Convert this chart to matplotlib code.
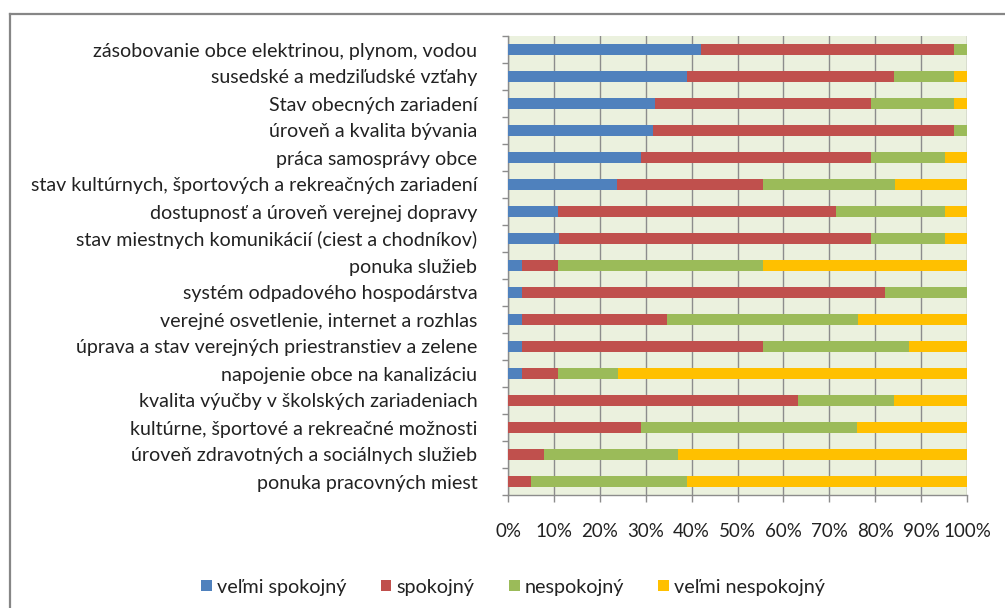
import matplotlib
matplotlib.use("Agg")
import matplotlib.pyplot as plt
from matplotlib.lines import Line2D
from matplotlib.patches import Patch
import numpy as np

plt.rcParams['font.family'] = ['Lato', 'DejaVu Sans']

categories = [
    "zásobovanie obce elektrinou, plynom, vodou",
    "susedské a medziľudské vzťahy",
    "Stav obecných zariadení",
    "úroveň a kvalita bývania",
    "práca samosprávy obce",
    "stav kultúrnych, športových a rekreačných zariadení",
    "dostupnosť a úroveň verejnej dopravy",
    "stav miestnych komunikácií (ciest a chodníkov)",
    "ponuka služieb",
    "systém odpadového hospodárstva",
    "verejné osvetlenie, internet a rozhlas",
    "úprava a stav verejných priestranstiev a zelene",
    "napojenie obce na kanalizáciu",
    "kvalita výučby v školských zariadeniach",
    "kultúrne, športové a rekreačné možnosti",
    "úroveň zdravotných a sociálnych služieb",
    "ponuka pracovných miest",
]
series_names = ["veľmi spokojný", "spokojný", "nespokojný", "veľmi nespokojný"]
velmi_spokojny = [42.1, 39.0, 32.1, 31.6, 29.0, 23.8, 10.8, 11.1, 3.0, 3.0, 3.0, 3.0, 3.0, 0, 0, 0, 0]
spokojny = [55.0, 45.2, 46.9, 65.5, 50.0, 31.8, 60.6, 67.9, 7.8, 79.2, 31.7, 52.6, 8.0, 63.1, 29.0, 7.9, 5.0]
nespokojny = [2.9, 12.9, 18.1, 2.9, 16.1, 28.8, 23.7, 16.1, 44.8, 17.8, 41.6, 31.7, 13.0, 21.1, 47.1, 29.1, 34.0]
velmi_nespokojny = [0, 2.9, 2.9, 0, 4.9, 15.6, 4.9, 4.9, 44.4, 0, 23.7, 12.7, 76.0, 15.8, 23.9, 63.0, 61.0]
colors = ["#4F81BD", "#C0504D", "#9BBB59", "#FFC000"]
xtick_labels = ["0%", "10%", "20%", "30%", "40%", "50%", "60%", "70%", "80%", "90%", "100%"]

W, H = 1005, 608
fig = plt.figure(figsize=(W / 100, H / 100), dpi=100)
ax = fig.add_axes([508 / W, 1 - 495 / H, (967 - 508) / W, (495 - 36) / H])
ax.set_facecolor("#EBF1DE")

y = np.arange(len(categories))
data = [velmi_spokojny, spokojny, nespokojny, velmi_nespokojny]
left = np.zeros(len(categories))
for vals, c in zip(data, colors):
    vals = np.array(vals, dtype=float)
    ax.barh(y, vals, left=left, height=0.38, color=c, zorder=3)
    left += vals

grid_c = "#8C8C8C"
ax.set_xlim(0, 100)
ax.set_ylim(len(categories) - 0.5, -0.5)
ax.set_xticks(np.arange(0, 101, 10))
ax.set_xticklabels(xtick_labels, fontsize=13.5, color="#222222")
ax.xaxis.grid(True, color=grid_c, linewidth=1.0, zorder=1)
ax.tick_params(axis='x', length=5, color=grid_c, width=1.0, pad=15)

ax.set_yticks(y)
ax.set_yticklabels(categories, fontsize=14.1, color="#222222")
ax.set_yticks(np.arange(-0.5, len(categories), 1), minor=True)
ax.tick_params(axis='y', which='major', length=0, pad=22)
ax.tick_params(axis='y', which='minor', length=4.3, color=grid_c, width=1.0)

for s in ["top", "right"]:
    ax.spines[s].set_visible(False)
for s in ["left", "bottom"]:
    ax.spines[s].set_color(grid_c)
    ax.spines[s].set_linewidth(1.0)

# outer chart frame (top and left edges visible)
fx, fy = 9.5 / W, 1 - 14 / H
fig.add_artist(Line2D([fx, 1.01], [fy, fy], color="#868686", linewidth=1.6, transform=fig.transFigure))
fig.add_artist(Line2D([fx, fx], [fy, -0.01], color="#868686", linewidth=1.6, transform=fig.transFigure))

handles = [Patch(facecolor=c, edgecolor='none') for c in colors]
fig.legend(handles, series_names, loc='center', bbox_to_anchor=(513 / W, 1 - 587 / H), ncol=4,
           frameon=False, fontsize=14.2, handlelength=0.55, handleheight=0.55, handletextpad=0.25,
           columnspacing=1.75, labelcolor="#222222")

fig.savefig("out.png", dpi=100)
